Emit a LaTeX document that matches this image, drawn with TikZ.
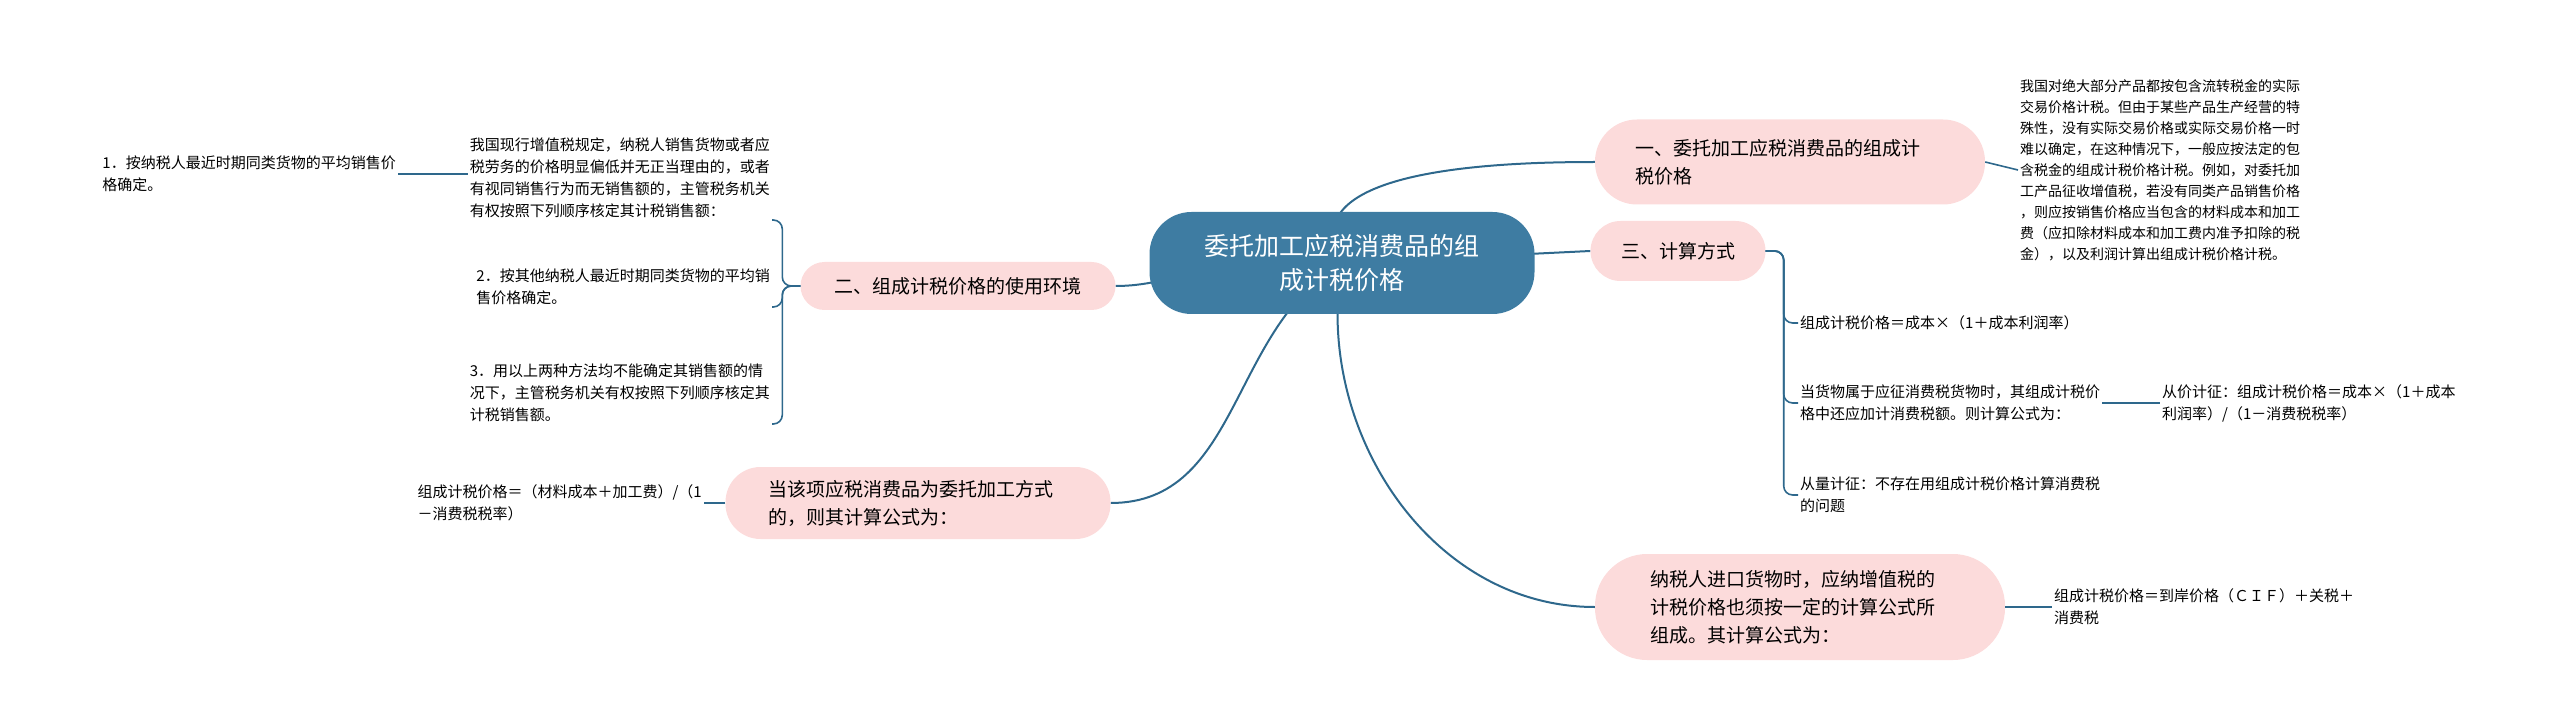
\documentclass[tikz,border=0pt]{standalone}
\usepackage{fontspec}
\setmainfont{Noto Sans CJK SC}
\usetikzlibrary{positioning,backgrounds}
\definecolor{rootblue}{RGB}{62,124,162}
\definecolor{linkblue}{RGB}{46,104,140}
\definecolor{pillpink}{RGB}{252,219,219}
\tikzset{
  x=1pt, y=-1pt,
  link/.style={draw=linkblue, line width=2pt},
  twig/.style={draw=linkblue, line width=1.6pt, rounded corners=9pt},
  rootbox/.style={fill=rootblue, text=white, rounded corners=42pt, align=center,
    minimum width=385pt, minimum height=102pt, font=\fontsize{25}{34}\selectfont},
  pill/.style={fill=pillpink, align=left, font=\fontsize{19}{28}\selectfont, inner sep=0pt},
  leaf/.style={align=left, font=\fontsize{15}{22}\selectfont, inner sep=2pt},
}
\begin{document}
\begin{tikzpicture}
    \useasboundingbox (0,0) rectangle (2560,727);

    \node [rootbox] (root) at (1342,263) {委托加工应税消费品的组\\成计税价格};

    % right side
    \node [pill, rounded corners=42pt, minimum width=390pt, minimum height=85pt,
           text width=310pt] (b1) at (1790,162)
    {一、委托加工应税消费品的组成计\\税价格};
    \node [leaf, anchor=west, font=\fontsize{14}{21}\selectfont] (b1d) at (2018,170)
    {我国对绝大部分产品都按包含流转税金的实际\\
     交易价格计税。但由于某些产品生产经营的特\\
     殊性，没有实际交易价格或实际交易价格一时\\
     难以确定，在这种情况下，一般应按法定的包\\
     含税金的组成计税价格计税。例如，对委托加\\
     工产品征收增值税，若没有同类产品销售价格\\
     ，则应按销售价格应当包含的材料成本和加工\\
     费（应扣除材料成本和加工费内准予扣除的税\\
     金），以及利润计算出组成计税价格计税。};

    \node [pill, rounded corners=30pt, minimum width=175pt, minimum height=60pt,
           align=center] (b3) at (1678,251) {三、计算方式};
    \node [leaf, anchor=west] (b3a) at (1798,323)
    {组成计税价格＝成本×（1＋成本利润率）};
    \node [leaf, anchor=west] (b3b) at (1798,403)
    {当货物属于应征消费税货物时，其组成计税价\\格中还应加计消费税额。则计算公式为：};
    \node [leaf, anchor=west] (b3b1) at (2160,403)
    {从价计征：组成计税价格＝成本×（1＋成本\\利润率）/（1－消费税税率）};
    \node [leaf, anchor=west] (b3c) at (1798,495)
    {从量计征：不存在用组成计税价格计算消费税\\的问题};

    \node [pill, rounded corners=52pt, minimum width=410pt, minimum height=106pt,
           text width=300pt] (b5) at (1800,607)
    {纳税人进口货物时，应纳增值税的\\计税价格也须按一定的计算公式所\\组成。其计算公式为：};
    \node [leaf, anchor=west] (b5a) at (2052,607)
    {组成计税价格＝到岸价格（ＣＩＦ）＋关税＋\\消费税};

    % left side
    \node [pill, rounded corners=24pt, minimum width=315pt, minimum height=48pt,
           align=center] (b2) at (958,286) {二、组成计税价格的使用环境};
    \node [leaf, anchor=south east] (b2a) at (772,220)
    {我国现行增值税规定，纳税人销售货物或者应\\
     税劳务的价格明显偏低并无正当理由的，或者\\
     有视同销售行为而无销售额的，主管税务机关\\
     有权按照下列顺序核定其计税销售额：};
    \node [leaf, anchor=east] (b2a1) at (398,174)
    {1．按纳税人最近时期同类货物的平均销售价\\格确定。};
    \node [leaf, anchor=south east] (b2b) at (772,307)
    {2．按其他纳税人最近时期同类货物的平均销\\售价格确定。};
    \node [leaf, anchor=south east] (b2c) at (772,424)
    {3．用以上两种方法均不能确定其销售额的情\\况下，主管税务机关有权按照下列顺序核定其\\计税销售额。};

    \node [pill, rounded corners=35pt, minimum width=385pt, minimum height=72pt,
           text width=300pt] (b4) at (918,503)
    {当该项应税消费品为委托加工方式\\的，则其计算公式为：};
    \node [leaf, anchor=east] (b4a) at (704,503)
    {组成计税价格＝（材料成本＋加工费）/（1\\－消费税税率）};

    % main branches, behind the root
    \begin{scope}[on background layer]
    \draw [link] (root.center) to[out=120,in=180] (b1.west);
    \draw [link] (root.center) -- (b3.west);
    \draw [link] (root.center) to[out=-100,in=180] (b5.west);
    \draw [link] (root.center) to[out=150,in=0] (b2.east);
    \draw [link] (root.center) to[out=-150,in=0] (b4.east);
    \end{scope}

    % leaves
    \draw [twig] (b1.east) -- (b1d.west);
    \draw [twig] (b3.east) -- ++(18,0) |- (b3a.west);
    \draw [twig] (b3.east) -- ++(18,0) |- (b3b.west);
    \draw [twig] (b3.east) -- ++(18,0) |- (b3c.west);
    \draw [twig] (b3b.east) -- (b3b1.west);
    \draw [twig] (b5.east) -- (b5a.west);
    \draw [twig] (b2.west) -- ++(-18,0) |- (b2a.south east);
    \draw [twig] (b2.west) -- ++(-18,0) |- (b2b.south east);
    \draw [twig] (b2.west) -- ++(-18,0) |- (b2c.south east);
    \draw [twig] (b2a1.east) -- (b2a1.east -| b2a.west);
    \draw [twig] (b4.west) -- (b4a.east);
\end{tikzpicture}
\end{document}
